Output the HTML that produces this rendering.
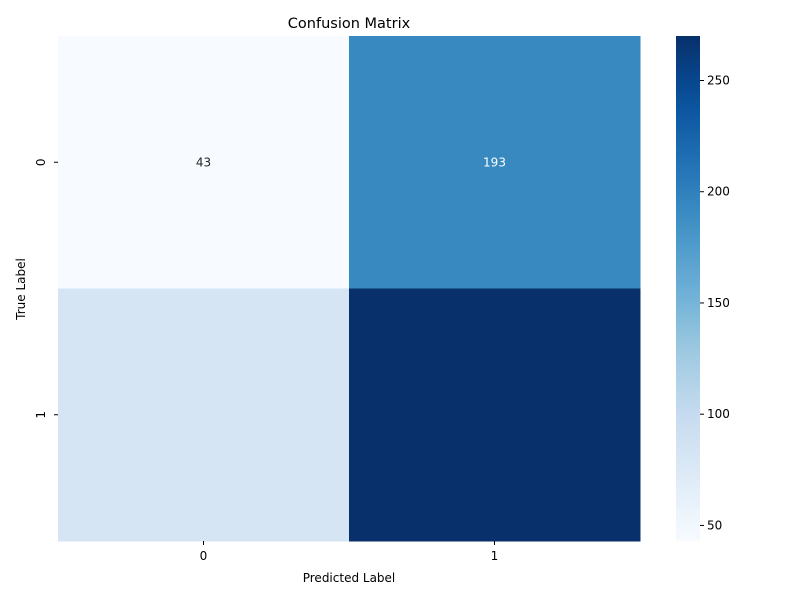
<!DOCTYPE html>
<html><head><meta charset="utf-8"><style>
body{margin:0;background:#fff;font-family:"Liberation Sans","DejaVu Sans",sans-serif;}
</style></head><body>
<svg id="chart" width="800" height="600" xmlns="http://www.w3.org/2000/svg" font-family="DejaVu Sans, Liberation Sans, sans-serif">
<text x="349" y="28" font-size="14.5" text-anchor="middle">Confusion Matrix</text>
<g id="cells"></g>
<g id="axes"></g>
<defs><linearGradient id="cbg" x1="0" y1="1" x2="0" y2="0"></linearGradient></defs>
<rect x="676" y="36" width="24" height="505" fill="url(#cbg)"/>
<g id="cbticks"></g>
<text x="349" y="582" font-size="12" text-anchor="middle">Predicted Label</text>
<text x="0" y="0" font-size="12" text-anchor="middle" transform="translate(25,289) rotate(-90)">True Label</text>
</svg>
<script>
const rowLabels=["0","1"];
const colLabels=["0","1"];
const values=[[43,193],[82,270]];
const annotations=[["43","193"],["",""]];
const cbTicks=[50,100,150,200,250];
const NS="http://www.w3.org/2000/svg";
const X0=58,X1=640,Y0=36,Y1=541;
const flat=values.flat();const vmin=Math.min(...flat),vmax=Math.max(...flat);
const stops=["#f7fbff","#deebf7","#c6dbef","#9ecae1","#6baed6","#4292c6","#2171b5","#08519c","#08306b"];
function hex(h){return [1,3,5].map(i=>parseInt(h.substr(i,2),16));}
function cmap(t){t=Math.max(0,Math.min(1,t));const p=t*8,i=Math.min(7,Math.floor(p)),f=p-i;const a=hex(stops[i]),b=hex(stops[i+1]);return "rgb("+a.map((v,k)=>Math.round(v+(b[k]-v)*f)).join(",")+")";}
const cw=(X1-X0)/colLabels.length,ch=(Y1-Y0)/rowLabels.length;
function xs(j){return X0+j*cw;} function ys(i){return Y0+i*ch;}
function cbY(v){return Y1-(v-vmin)/(vmax-vmin)*(Y1-Y0);}
function mk(tag,attrs,parent){const e=document.createElementNS(NS,tag);for(const k in attrs)e.setAttribute(k,attrs[k]);parent.appendChild(e);return e;}
const cells=document.getElementById('cells'),axes=document.getElementById('axes'),cb=document.getElementById('cbticks');
values.forEach((row,i)=>row.forEach((v,j)=>{
 const t=(v-vmin)/(vmax-vmin);
 const r=mk('rect',{x:xs(j),y:ys(i),width:cw+0.5,height:ch+0.5,fill:cmap(t)},cells);
 
 
 if(annotations[i][j]){const tx=mk('text',{x:xs(j)+cw/2,y:ys(i)+ch/2+4,'font-size':12,'text-anchor':'middle',fill:t>0.5?'#fff':'#262626'},cells);tx.textContent=annotations[i][j];
 
 }
}));
colLabels.forEach((l,j)=>{const x=xs(j)+cw/2;mk('line',{x1:x,x2:x,y1:Y1,y2:Y1+4,stroke:'#000'},axes);const t=mk('text',{x:x,y:Y1+19,'font-size':12,'text-anchor':'middle'},axes);t.textContent=l;
 
 });
rowLabels.forEach((l,i)=>{const y=ys(i)+ch/2;mk('line',{x1:X0-4,x2:X0,y1:y,y2:y,stroke:'#000'},axes);const t=mk('text',{x:0,y:0,'font-size':12,'text-anchor':'middle',transform:'translate('+(X0-13)+','+y+') rotate(-90)'},axes);t.textContent=l;
 
 });
const g=document.getElementById('cbg');
for(let k=0;k<=20;k++){mk('stop',{offset:k/20,'stop-color':cmap(k/20)},g);}
cbTicks.forEach(v=>{const y=cbY(v);mk('line',{x1:700,x2:704,y1:y,y2:y,stroke:'#000'},cb);const t=mk('text',{x:707,y:y+4,'font-size':12},cb);t.textContent=v;
 
 });
</script>
</body></html>
